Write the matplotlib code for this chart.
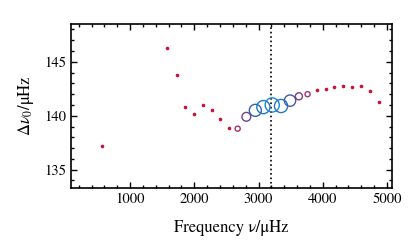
import numpy as np
import matplotlib
matplotlib.use("Agg")
import matplotlib.pyplot as plt
from matplotlib.colors import LinearSegmentedColormap
from matplotlib.ticker import MultipleLocator

plt.rcParams['font.family'] = 'STIXGeneral'
plt.rcParams['mathtext.fontset'] = 'stix'

# filled points (low weight modes)
freq_dot = [560, 1580, 1726, 1860, 1995, 2135, 2270, 2405, 2540,
            3903, 4043, 4177, 4317, 4457, 4597, 4737, 4877]
dnu_dot = [137.2, 146.3, 143.8, 140.8, 140.2, 141.0, 140.5, 139.7, 138.9,
           142.4, 142.5, 142.7, 142.75, 142.7, 142.75, 142.3, 141.3]

# open points near numax, with their weights
freq_open = [2675, 2810, 2950, 3075, 3213, 3350, 3490, 3628, 3763]
dnu_open = [138.8, 139.9, 140.5, 140.8, 141.0, 140.9, 141.4, 141.8, 142.0]
weight = [0.36, 0.62, 0.85, 0.93, 1.0, 0.93, 0.8, 0.5, 0.36]

numax = 3195

cmap = LinearSegmentedColormap.from_list(
    'w', [(0, '#c8103a'), (0.35, '#a4306a'), (0.6, '#7a3f82'),
          (0.85, '#2f62b0'), (1, '#1a88d4')])

fig = plt.figure(figsize=(4.15, 2.48), dpi=100)
ax = fig.add_axes([0.171, 0.242, 0.774, 0.661])

ax.plot(freq_dot, dnu_dot, 'o', ms=2.6, color='#c8103a', mec='none')
w = np.array(weight)
ax.scatter(freq_open, dnu_open, s=(10.2 * w) ** 2, facecolors='none',
           edgecolors=cmap(w), linewidths=1.0, zorder=3)
ax.axvline(numax, color='k', ls=':', lw=1.2)

ax.set_xlim(80, 5080)
ax.set_ylim(133.3, 148.5)
ax.xaxis.set_major_locator(MultipleLocator(1000))
ax.xaxis.set_minor_locator(MultipleLocator(200))
ax.yaxis.set_major_locator(MultipleLocator(5))
ax.yaxis.set_minor_locator(MultipleLocator(1))
ax.tick_params(which='both', direction='in', top=True, right=True,
               labelsize=10.5, width=1.0)
ax.tick_params(which='major', length=4.5)
ax.tick_params(which='minor', length=2.5)
for s in ax.spines.values():
    s.set_linewidth(1.2)

ax.set_xlabel('Frequency ν/μHz', fontsize=12, labelpad=10)
ax.set_ylabel(r'$\Delta\nu_0/$μHz', fontsize=12, labelpad=6)

fig.savefig('out.png', dpi=100)
